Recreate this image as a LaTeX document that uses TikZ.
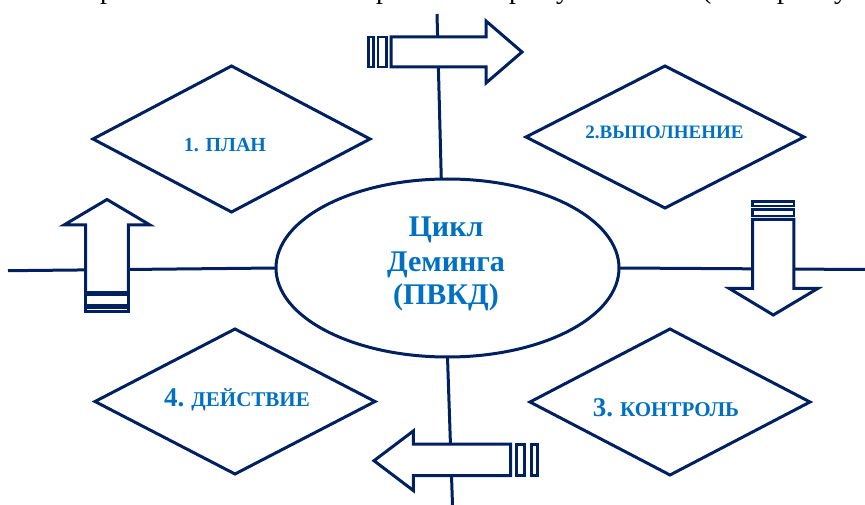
\documentclass[tikz,border=0pt]{standalone}
\usepackage{fontspec}
\setmainfont{Liberation Serif}
\usetikzlibrary{shapes.geometric}
\definecolor{navy}{RGB}{0,32,96}
\definecolor{txtblue}{RGB}{0,112,192}

\begin{document}
\begin{tikzpicture}[x=1pt,y=-1pt,
  rule/.style={draw=navy, line width=3pt},
  dia/.style={diamond, draw=navy, line width=3pt, inner sep=0pt, outer sep=0pt, fill=white},
  blk/.style={draw=navy, line width=3pt, fill=white, line join=miter},
  stripe/.style={draw=navy, line width=2.6pt, fill=white},
  lbl/.style={text=txtblue, font=\bfseries\fontsize{20}{22}\selectfont, inner sep=0pt, anchor=base},
  big/.style={text=txtblue, font=\bfseries\fontsize{30}{34}\selectfont, inner sep=0pt, anchor=base},
  frag/.style={font=\fontsize{28}{30}\selectfont, inner sep=0pt, anchor=base west},
]
\useasboundingbox (0,0) rectangle (865,505);

% tail ends of the text line above the picture
\node[frag] (f1) at (100,-1.5) {р};
\node[frag] (f2) at (376,-1.5) {р};
\node[frag] (f3) at (509,-1.5) {р};
\node[frag] (f4) at (556,-1.5) {у};
\node[frag] (f5) at (702,-1.5) {(};
\node[frag] (f6) at (777,-1.5) {р};
\node[frag] (f7) at (834,-1.5) {у};

% central ellipse
\node[ellipse, draw=navy, line width=3pt, minimum width=343pt, minimum height=178pt,
      inner sep=0pt, outer sep=0pt] (ell) at (447.5,268) {};
\node[big] (c1) at (446,237) {Цикл};
\node[big] (c2) at (446,272) {Деминга};
\node[big] (c3) at (446,305) {(ПВКД)};

% axes through the ellipse
\coordinate (topend) at (437,14);
\coordinate (botend) at (452.5,505);
\coordinate (leftend) at (8,270.7);
\coordinate (rightend) at (865,269.5);
\draw[rule] (topend) -- (ell.94);
\draw[rule] (ell.south) -- (botend);
\draw[rule] (leftend) -- (ell.west);
\draw[rule] (ell.east) -- (rightend);

% four stages
\node[dia, minimum width=277pt, minimum height=146pt] (d1) at (231.5,139) {};
\node[lbl] (t1) at (225,152) {1. ПЛАН};
\node[dia, minimum width=278pt, minimum height=142pt] (d2) at (665,137) {};
\node[lbl, font=\bfseries\fontsize{19}{22}\selectfont] (t2) at (664.5,139) {2.ВЫПОЛНЕНИЕ};
\node[dia, minimum width=280pt, minimum height=146pt] (d3) at (670,402) {};
\node[lbl, font=\bfseries\fontsize{21}{22}\selectfont] (t3) at (666,416) {{\fontsize{27}{27}\selectfont 3.} КОНТРОЛЬ};
\node[dia, minimum width=280pt, minimum height=145pt] (d4) at (235,401.5) {};
\node[lbl, font=\bfseries\fontsize{21}{22}\selectfont] (t4) at (237,406) {{\fontsize{27}{27}\selectfont 4.} ДЕЙСТВИЕ};

% block arrow pointing right (top)
\draw[blk] (391,37) -- (486,37) -- (486,21) -- (522,52) -- (486,83) -- (486,67) -- (391,67) -- cycle;
\draw[stripe] (368.5,37) rectangle (373.2,67);
\draw[stripe] (377.8,37) rectangle (386.2,67);

% block arrow pointing down (right)
\draw[blk] (752.7,219.5) -- (752.7,288.3) -- (729,288.3) -- (773.3,315) -- (818,288.3) -- (793.8,288.3) -- (793.8,219.5) -- cycle;
\draw[stripe] (752.7,209.5) rectangle (793.8,216);
\draw[stripe] (752.7,201.7) rectangle (793.8,206);

% block arrow pointing left (bottom)
\draw[blk] (510.7,444.2) -- (413.3,444.2) -- (413.3,431) -- (374,460.7) -- (413.3,490.5) -- (413.3,475.7) -- (510.7,475.7) -- cycle;
\draw[stripe] (516.2,444.2) rectangle (524.5,475.7);
\draw[stripe] (531.2,444.2) rectangle (537.2,475.7);

% block arrow pointing up (left)
\draw[blk] (85.7,292.5) -- (85.7,225) -- (64,225) -- (107,199.5) -- (150,225) -- (128.3,225) -- (128.3,292.5) -- cycle;
\draw[stripe] (85.7,295) rectangle (128.3,304.8);
\draw[stripe] (85.7,307.5) rectangle (128.3,311.5);
\end{tikzpicture}
\end{document}
